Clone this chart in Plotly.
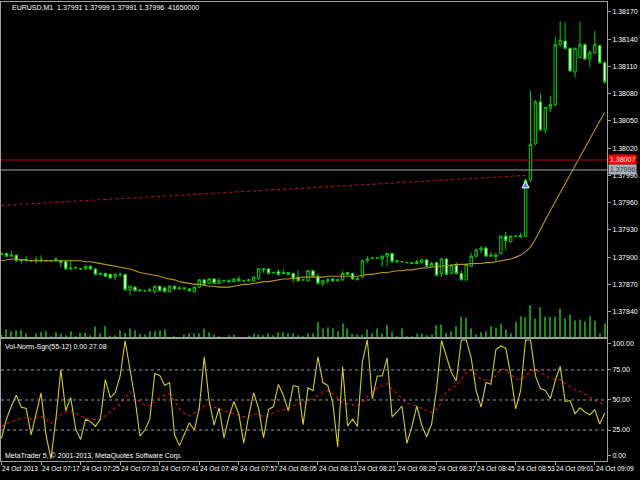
import plotly.graph_objects as go

# EURUSD M1, 24 Oct 2013, 07:09 - 09:11 (bar index 0..122)
bars = list(range(123))

opens = [
    1.37903, 1.37904, 1.37901, 1.37902, 1.37896, 1.37896, 1.37896, 1.37897, 1.37896, 1.37896,
    1.37896, 1.37896, 1.37896, 1.37895, 1.37887, 1.37888, 1.37887, 1.37887, 1.37890, 1.37887,
    1.37881, 1.37882, 1.37881, 1.37878, 1.37881, 1.37881, 1.37864, 1.37867, 1.37863, 1.37863,
    1.37863, 1.37862, 1.37868, 1.37866, 1.37862, 1.37868, 1.37865, 1.37865, 1.37865, 1.37862,
    1.37867, 1.37875, 1.37871, 1.37876, 1.37871, 1.37874, 1.37873, 1.37873, 1.37876, 1.37874,
    1.37874, 1.37874, 1.37876, 1.37886, 1.37887, 1.37883, 1.37884, 1.37882, 1.37883, 1.37882,
    1.37878, 1.37875, 1.37874, 1.37885, 1.37879, 1.37871, 1.37874, 1.37876, 1.37874, 1.37875,
    1.37883, 1.37882, 1.37875, 1.37878, 1.37896, 1.37899, 1.37899, 1.37898, 1.37901, 1.37904,
    1.37895, 1.37895, 1.37894, 1.37893, 1.37893, 1.37894, 1.37897, 1.37890, 1.37894, 1.37882,
    1.37898, 1.37882, 1.37891, 1.37882, 1.37875, 1.37890, 1.37901, 1.37908, 1.37910, 1.37901,
    1.37902, 1.37904, 1.37923, 1.37917, 1.37923, 1.37922, 1.37923, 1.37985, 1.38025, 1.38071,
    1.38040, 1.38064, 1.38068, 1.38134, 1.38138, 1.38130, 1.38104, 1.38120, 1.38134, 1.38119,
    1.38125, 1.38133, 1.38114,
]
highs = [
    1.37905, 1.37905, 1.37907, 1.37903, 1.37898, 1.37901, 1.37897, 1.37901, 1.37902, 1.37897,
    1.37897, 1.37900, 1.37897, 1.37896, 1.37896, 1.37890, 1.37888, 1.37891, 1.37891, 1.37888,
    1.37883, 1.37883, 1.37882, 1.37882, 1.37883, 1.37882, 1.37868, 1.37868, 1.37864, 1.37864,
    1.37866, 1.37869, 1.37869, 1.37868, 1.37869, 1.37869, 1.37868, 1.37866, 1.37866, 1.37868,
    1.37876, 1.37876, 1.37877, 1.37877, 1.37877, 1.37875, 1.37876, 1.37877, 1.37879, 1.37875,
    1.37876, 1.37879, 1.37888, 1.37888, 1.37888, 1.37884, 1.37887, 1.37886, 1.37884, 1.37883,
    1.37886, 1.37876, 1.37886, 1.37886, 1.37882, 1.37875, 1.37877, 1.37877, 1.37876, 1.37885,
    1.37884, 1.37883, 1.37878, 1.37897, 1.37901, 1.37900, 1.37900, 1.37902, 1.37905, 1.37905,
    1.37897, 1.37896, 1.37895, 1.37894, 1.37897, 1.37898, 1.37898, 1.37895, 1.37895, 1.37899,
    1.37899, 1.37892, 1.37894, 1.37885, 1.37893, 1.37905, 1.37909, 1.37912, 1.37912, 1.37906,
    1.37905, 1.37924, 1.37928, 1.37924, 1.37924, 1.37927, 1.37986, 1.38083, 1.38073, 1.38080,
    1.38066, 1.38078, 1.38143, 1.38160, 1.38158, 1.38131, 1.38131, 1.38159, 1.38136, 1.38128,
    1.38149, 1.38134, 1.38116,
]
lows = [
    1.37902, 1.37900, 1.37900, 1.37895, 1.37893, 1.37895, 1.37895, 1.37893, 1.37894, 1.37895,
    1.37895, 1.37895, 1.37889, 1.37886, 1.37886, 1.37887, 1.37886, 1.37886, 1.37886, 1.37880,
    1.37880, 1.37878, 1.37876, 1.37875, 1.37878, 1.37863, 1.37858, 1.37862, 1.37862, 1.37862,
    1.37862, 1.37860, 1.37862, 1.37861, 1.37861, 1.37864, 1.37864, 1.37864, 1.37862, 1.37861,
    1.37866, 1.37869, 1.37870, 1.37870, 1.37870, 1.37873, 1.37871, 1.37872, 1.37873, 1.37873,
    1.37873, 1.37873, 1.37875, 1.37883, 1.37881, 1.37882, 1.37879, 1.37881, 1.37880, 1.37872,
    1.37873, 1.37874, 1.37873, 1.37878, 1.37870, 1.37868, 1.37871, 1.37873, 1.37873, 1.37874,
    1.37880, 1.37875, 1.37875, 1.37877, 1.37894, 1.37898, 1.37898, 1.37890, 1.37890, 1.37894,
    1.37893, 1.37894, 1.37893, 1.37892, 1.37892, 1.37893, 1.37889, 1.37889, 1.37879, 1.37878,
    1.37880, 1.37881, 1.37881, 1.37874, 1.37874, 1.37889, 1.37900, 1.37904, 1.37900, 1.37900,
    1.37895, 1.37903, 1.37908, 1.37916, 1.37922, 1.37921, 1.37922, 1.37983, 1.38023, 1.38039,
    1.38036, 1.38060, 1.38066, 1.38132, 1.38129, 1.38104, 1.38098, 1.38119, 1.38117, 1.38109,
    1.38124, 1.38113, 1.38091,
]
closes = [
    1.37904, 1.37901, 1.37902, 1.37896, 1.37897, 1.37897, 1.37896, 1.37896, 1.37897, 1.37896,
    1.37896, 1.37898, 1.37894, 1.37887, 1.37888, 1.37888, 1.37887, 1.37890, 1.37887, 1.37881,
    1.37882, 1.37879, 1.37877, 1.37881, 1.37881, 1.37864, 1.37868, 1.37863, 1.37864, 1.37863,
    1.37864, 1.37868, 1.37863, 1.37862, 1.37868, 1.37865, 1.37866, 1.37866, 1.37863, 1.37867,
    1.37875, 1.37870, 1.37876, 1.37871, 1.37874, 1.37874, 1.37874, 1.37876, 1.37874, 1.37874,
    1.37875, 1.37878, 1.37887, 1.37887, 1.37882, 1.37883, 1.37881, 1.37883, 1.37881, 1.37876,
    1.37874, 1.37875, 1.37885, 1.37879, 1.37871, 1.37874, 1.37875, 1.37874, 1.37875, 1.37882,
    1.37881, 1.37876, 1.37876, 1.37896, 1.37898, 1.37899, 1.37899, 1.37901, 1.37904, 1.37895,
    1.37896, 1.37895, 1.37894, 1.37894, 1.37895, 1.37897, 1.37890, 1.37893, 1.37880, 1.37898,
    1.37881, 1.37891, 1.37882, 1.37875, 1.37892, 1.37901, 1.37908, 1.37910, 1.37901, 1.37902,
    1.37901, 1.37923, 1.37918, 1.37923, 1.37923, 1.37924, 1.37985, 1.38024, 1.38071, 1.38040,
    1.38065, 1.38068, 1.38134, 1.38139, 1.38130, 1.38105, 1.38130, 1.38134, 1.38118, 1.38125,
    1.38134, 1.38114, 1.38093,
]

# moving average (gold line)
ma_values = [
    1.37896, 1.37897, 1.37898, 1.37898, 1.37897, 1.37897, 1.37896, 1.37896, 1.37896, 1.37896,
    1.37896, 1.37896, 1.37896, 1.37896, 1.37896, 1.37896, 1.37896, 1.37895, 1.37895, 1.37894,
    1.37893, 1.37892, 1.37891, 1.37890, 1.37889, 1.37888, 1.37887, 1.37885, 1.37883, 1.37882,
    1.37881, 1.37880, 1.37879, 1.37877, 1.37876, 1.37875, 1.37873, 1.37872, 1.37871, 1.37870,
    1.37870, 1.37869, 1.37868, 1.37868, 1.37867, 1.37867, 1.37867, 1.37868, 1.37869, 1.37870,
    1.37870, 1.37871, 1.37872, 1.37873, 1.37873, 1.37874, 1.37875, 1.37876, 1.37876, 1.37877,
    1.37877, 1.37878, 1.37878, 1.37878, 1.37878, 1.37878, 1.37879, 1.37879, 1.37879, 1.37879,
    1.37879, 1.37879, 1.37879, 1.37880, 1.37881, 1.37881, 1.37882, 1.37883, 1.37883, 1.37884,
    1.37885, 1.37885, 1.37886, 1.37886, 1.37887, 1.37888, 1.37888, 1.37889, 1.37890, 1.37890,
    1.37891, 1.37891, 1.37892, 1.37892, 1.37892, 1.37893, 1.37893, 1.37893, 1.37894, 1.37894,
    1.37895, 1.37896, 1.37897, 1.37898, 1.37900, 1.37902, 1.37906, 1.37911, 1.37920, 1.37931,
    1.37941, 1.37951, 1.37961, 1.37971, 1.37981, 1.37991, 1.38001, 1.38010, 1.38020, 1.38030,
    1.38040, 1.38050, 1.38059,
]

# tick volume
volumes = [
    12, 28, 22, 25, 25, 15, 4, 15, 19, 22, 7, 19, 15, 10, 22, 7, 17, 17, 10, 35,
    15, 37, 9, 10, 25, 17, 30, 25, 14, 12, 22, 22, 25, 28, 4, 7, 4, 12, 15, 16,
    16, 30, 19, 12, 7, 2, 10, 12, 4, 2, 8, 14, 12, 10, 15, 10, 19, 19, 16, 16,
    10, 7, 15, 16, 50, 30, 34, 30, 22, 45, 30, 14, 12, 12, 27, 16, 30, 15, 40, 19,
    7, 30, 7, 7, 14, 15, 10, 12, 40, 42, 17, 22, 37, 65, 62, 30, 12, 19, 22, 37,
    32, 44, 27, 16, 50, 67, 64, 100, 60, 94, 65, 65, 65, 89, 60, 72, 55, 57, 52, 67,
    54, 15, 45,
]

# Vol-Norm-Sgn(55-12): main line and signal line
vns_main = [
    18, 34, 45, 54, 44, 43, 21, 38.5, 56, 21, 1, 34, 75.4, 41, 52, 26, 17, 34, 32, 28,
    34, 67, 52, 56, 70, 99.5, 75, 51, 20, 25, 34, 72, 70.5, 62, 64.5, 21, 12, 21, 31, 25,
    43, 86, 49.5, 29, 43.5, 18.6, 36, 48.6, 38.5, 14, 37, 56, 43, 18.6, 42, 44.5, 63, 54, 41, 62,
    61, 29.5, 60, 57.7, 86, 64.5, 62, 48, 11, 77.6, 28.4, 34, 28, 82, 100, 51, 70, 70, 85, 36,
    40, 45, 14, 27.6, 45, 29, 19.4, 30, 59, 99.5, 86, 72.7, 66, 100, 100, 85, 57.7, 44, 64.5, 63,
    92, 95, 93, 71, 42.6, 57.7, 100, 100, 70, 59.6, 58, 51, 66, 78, 48.6, 49.5, 38.5, 43.5, 40, 37.7,
    41.8, 30, 39,
]
vns_signal = [
    28, 30, 32, 33, 35, 35, 34, 35, 36.5, 34, 30.5, 34, 38, 40, 41, 39, 37, 35, 34, 33.5,
    33.6, 37, 40, 43, 46.7, 52, 57, 52, 48, 46, 45.4, 48, 52, 54, 55, 49, 42.6, 39, 36.6, 39,
    42.6, 45, 46, 44, 42.6, 41, 39.5, 38.5, 37.5, 36, 36.5, 38, 38, 36, 37, 39.5, 41, 42, 43, 45,
    46.7, 48, 49.5, 51, 54, 56.5, 57.7, 55, 51, 48, 46.7, 46, 45.4, 48, 53, 57, 60, 62, 63.7, 59,
    55, 51, 47.5, 46, 45, 43, 41, 39.5, 42, 48, 57, 60, 62, 67, 72.7, 75, 71, 67, 66.5, 66,
    70, 76, 75, 71, 68, 67, 70, 74, 75.4, 73, 70, 68, 67.5, 67, 64, 61, 58.5, 57, 55, 52,
    50, 47.5, 46,
]

# trend line end points and the arrow
trend_x = [0, 106]
trend_y = [1.37957, 1.37990]
arrow_x = [106]
arrow_y = [1.37984]

ask_price = 1.38007
bid_price = 1.37996

price_ticks = [1.38170, 1.38140, 1.38110, 1.38080, 1.38050, 1.38020, 1.37990,
               1.37960, 1.37930, 1.37900, 1.37870, 1.37840]
level_values = [25, 50, 75]
level_tick_pos = [96.7, 75, 50, 25, 4.1]
level_tick_text = ["100.00", "75.00", "50.00", "25.00", "0.00"]

time_ticks = list(range(0, 121, 8))
time_labels = ["24 Oct 2013", "24 Oct 07:17", "24 Oct 07:25", "24 Oct 07:33",
               "24 Oct 07:41", "24 Oct 07:49", "24 Oct 07:57", "24 Oct 08:05",
               "24 Oct 08:13", "24 Oct 08:21", "24 Oct 08:29", "24 Oct 08:37",
               "24 Oct 08:45", "24 Oct 08:53", "24 Oct 09:01", "24 Oct 09:09"]

FONT = "Liberation Sans, Arial, sans-serif"
FRAME = "#a0a0a0"
GREEN = "#00d000"

fig = go.Figure()

# volume histogram at the bottom of the price window
fig.add_trace(go.Bar(x=bars, y=volumes, width=0.25, marker_color="#1a8a1a",
                     marker_line_width=0, xaxis="x", yaxis="y3"))

fig.add_trace(go.Scatter(x=bars, y=ma_values, mode="lines",
                         line=dict(color="#b8961a", width=1.1), xaxis="x", yaxis="y"))

fig.add_trace(go.Candlestick(
    x=bars, open=opens, high=highs, low=lows, close=closes,
    increasing=dict(line=dict(color=GREEN, width=1), fillcolor="#000000"),
    decreasing=dict(line=dict(color=GREEN, width=1), fillcolor="#ffffff"),
    whiskerwidth=0, xaxis="x", yaxis="y"))

fig.add_trace(go.Scatter(x=trend_x, y=trend_y, mode="lines",
                         line=dict(color="#d01010", width=1, dash="dot"),
                         xaxis="x", yaxis="y"))
fig.add_trace(go.Scatter(x=arrow_x, y=arrow_y, mode="markers",
                         marker=dict(symbol="arrow-up", size=7, color="#4f8fe0",
                                     line=dict(color="#ffffff", width=1)),
                         xaxis="x", yaxis="y"))

# indicator window
fig.add_trace(go.Scatter(x=bars, y=vns_signal, mode="lines",
                         line=dict(color="#d01010", width=1.2, dash="dot"),
                         xaxis="x2", yaxis="y2"))
fig.add_trace(go.Scatter(x=bars, y=vns_main, mode="lines",
                         line=dict(color="#cfcf2a", width=1.1),
                         xaxis="x2", yaxis="y2"))

# ask / bid lines
fig.add_shape(type="line", xref="paper", x0=0, x1=1, yref="y", y0=ask_price, y1=ask_price,
              line=dict(color="#c00000", width=1))
fig.add_shape(type="line", xref="paper", x0=0, x1=1, yref="y", y0=bid_price, y1=bid_price,
              line=dict(color="#a8a8a8", width=1))

for lv in level_values:
    fig.add_shape(type="line", xref="x2", x0=-0.1, x1=122.47, yref="y2", y0=lv, y1=lv,
                  line=dict(color="#9a9a9a", width=1, dash="dot"))

fig.add_annotation(xref="paper", x=1, xanchor="left", xshift=1, yref="y", y=ask_price,
                   text="%.5f" % ask_price, showarrow=False, bgcolor="#ff0000",
                   borderpad=1, font=dict(family=FONT, size=7, color="#ffffff"))
fig.add_annotation(xref="paper", x=1, xanchor="left", xshift=1, yref="y", y=bid_price,
                   text="%.5f" % bid_price, showarrow=False, bgcolor="#a8b2be",
                   borderpad=1, font=dict(family=FONT, size=7, color="#303030"))

# texts
fig.add_annotation(xref="paper", x=0.015, xanchor="left", yref="paper", y=0.989,
                   yanchor="middle", showarrow=False,
                   text="EURUSD,M1\u00a0 1.37991 1.37999 1.37991 1.37996\u00a0 41650000",
                   font=dict(family=FONT, size=7, color="#ffffff"))
fig.add_annotation(xref="paper", x=0.003, xanchor="left", yref="paper", y=0.248,
                   yanchor="middle", showarrow=False,
                   text="Vol-Norm-Sgn(55-12) 0.00 27.08",
                   font=dict(family=FONT, size=7, color="#ffffff"))
fig.add_annotation(xref="paper", x=0.003, xanchor="left", yref="paper", y=0.011,
                   yanchor="middle", showarrow=False,
                   text="MetaTrader 5, \u00a9 2001-2013, MetaQuotes Software Corp.",
                   font=dict(family=FONT, size=7, color="#ffffff"))

for tx, lab in zip(time_ticks, time_labels):
    fig.add_annotation(xref="x2", x=tx, xanchor="left", xshift=0, yref="paper", y=-0.0174,
                       yanchor="middle", showarrow=False, text=lab, borderpad=0,
                       font=dict(family=FONT, size=6.6, color="#ffffff"))

axis_common = dict(showgrid=False, zeroline=False, showline=True, linecolor=FRAME,
                   linewidth=1, mirror=True, automargin=False)

fig.update_layout(
    template="none",
    width=640, height=480,
    margin=dict(l=1, r=33, t=2, b=19),
    paper_bgcolor="#000000", plot_bgcolor="#000000",
    showlegend=False,
    font=dict(family=FONT, size=7, color="#ffffff"),
    xaxis=dict(domain=[0, 1], range=[-0.1, 122.47], anchor="y",
               showticklabels=False, ticks="", rangeslider=dict(visible=False),
               **axis_common),
    yaxis=dict(domain=[0.2669, 1], range=[1.378104, 1.38181], side="right",
               tickvals=price_ticks, ticktext=["%.5f" % p for p in price_ticks],
               ticks="outside", ticklen=3, tickcolor=FRAME,
               tickfont=dict(family=FONT, size=7, color="#ffffff"), **axis_common),
    yaxis3=dict(overlaying="y", range=[0, 1010], visible=False),
    xaxis2=dict(domain=[0, 1], range=[-0.1, 122.47], anchor="y2",
                tickvals=time_ticks, showticklabels=False, ticks="outside",
                ticklen=3, tickcolor=FRAME, **axis_common),
    yaxis2=dict(domain=[0, 0.2669], range=[-0.8, 101.2], side="right", anchor="x2",
                tickvals=level_tick_pos, ticktext=level_tick_text,
                ticks="outside", ticklen=3, tickcolor=FRAME,
                tickfont=dict(family=FONT, size=7, color="#ffffff"), **axis_common),
)

# page body has a default margin; drop it so the chart fills the window
fig.write_html("out.html", config={"displayModeBar": False},
               post_script="document.body.style.margin='0';"
                           "document.body.style.background='#000';")
